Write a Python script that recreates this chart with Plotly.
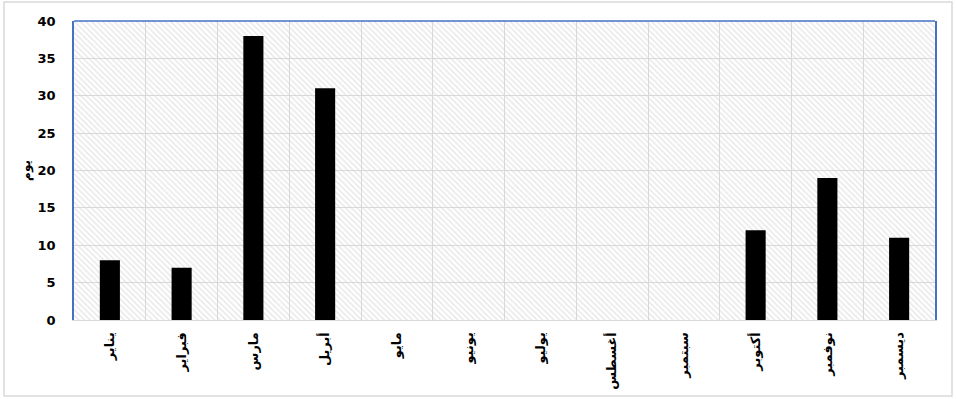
import plotly.graph_objects as go

# Monthly counts
months = ["يناير", "فبراير", "مارس", "أبريل", "مايو", "يونيو",
          "يوليو", "أغسطس", "سبتمبر", "أكتوبر", "نوفمبر", "ديسمبر"]
days = [8, 7, 38, 31, 0, 0, 0, 0, 0, 12, 19, 11]
y_title = "يوم"
y_max = 40
y_step = 5

BLUE = "#4472C4"
GRID = "#d9d9d9"
FONT = "DejaVu Sans"

fig = go.Figure()

# Hatched plot background: one full-width transparent bar per category
fig.add_trace(go.Bar(
    x=months, y=[y_max] * len(months), width=1,
    marker=dict(color="rgba(0,0,0,0)", line=dict(width=0),
                pattern=dict(shape="\\", fgcolor="#d4d4d4", bgcolor="rgba(0,0,0,0)",
                             size=4, solidity=0.4)),
    hoverinfo="skip", showlegend=False,
))

# Data bars
fig.add_trace(go.Bar(
    x=months, y=days, width=0.28,
    marker=dict(color="black", line=dict(width=0)),
    showlegend=False,
))

fig.update_layout(
    width=957, height=399,
    margin=dict(l=74, r=22, t=21, b=79),
    paper_bgcolor="white", plot_bgcolor="white",
    barmode="overlay",
    font=dict(family=FONT, color="black"),
    xaxis=dict(
        type="category", tickson="boundaries", ticks="", tickangle=-90,
        automargin=False,
        showgrid=True, gridcolor=GRID, gridwidth=1,
        showline=True, linecolor=GRID, linewidth=1,
        ticklabelstandoff=6,
        tickfont=dict(family=FONT, size=13, weight="bold"),
    ),
    yaxis=dict(
        range=[0, y_max], dtick=y_step, tick0=0,
        automargin=False,
        showgrid=True, gridcolor=GRID, gridwidth=1,
        showline=True, linecolor=BLUE, linewidth=1.5, mirror=True,
        zeroline=False, ticks="", ticklabelstandoff=14,
        tickfont=dict(family=FONT, size=13, weight="bold"),
        title=dict(text=y_title, standoff=4,
                   font=dict(family=FONT, size=12, weight="bold")),
    ),
    shapes=[
        # top edge of the plot frame
        dict(type="line", xref="paper", yref="paper", x0=0, x1=1, y0=1, y1=1,
             line=dict(color=BLUE, width=1.5), layer="above"),
        # outer chart border
        dict(type="rect", xref="paper", yref="paper",
             x0=-70 / 861, x1=1 + 17 / 861, y0=-76 / 299, y1=1 + 19 / 299,
             line=dict(color="#d9d9d9", width=1.5), layer="above"),
    ],
)

fig.write_html("out.html")
